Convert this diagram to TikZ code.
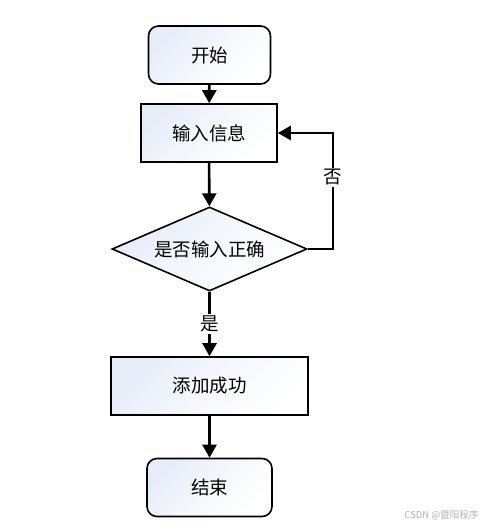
\documentclass[tikz,border=0pt]{standalone}
\usepackage{fontspec}
\setmainfont{Noto Sans CJK SC}
\usetikzlibrary{shapes.geometric,arrows.meta}
\definecolor{fillA}{HTML}{E6ECF8}
\tikzset{
  base/.style={draw=black, line width=1.6pt, inner sep=0pt, font=\fontsize{18.5}{22}\selectfont,
    shading=axis, top color=fillA, bottom color=white, middle color=white!60!fillA, shading angle=45},
  term/.style={base, rounded corners=10pt, minimum width=122pt, minimum height=58pt},
  proc/.style={base, minimum height=58pt},
  dec/.style={base, diamond, aspect=2.32, minimum width=195pt, minimum height=84pt},
  arr/.style={line width=2.6pt, -{Triangle[width=14pt,length=13pt]}},
  lab/.style={fill=white, inner sep=1.5pt, font=\fontsize{18.5}{22}\selectfont}
}
\begin{document}
\begin{tikzpicture}[x=1pt,y=-1pt]
\useasboundingbox (0,0) rectangle (485,527);
\node[term] (s) at (209.5,55) {开始};
\node[proc, minimum width=136pt] (in) at (209,133) {输入信息};
\node[dec] (d) at (209.5,249) {是否输入正确};
\node[proc, minimum width=197pt] (add) at (209.5,386) {添加成功};
\node[term, minimum width=125pt] (e) at (209.5,487.5) {结束};
\coordinate (c) at (333,249);
\draw[arr] (s) -- (in);
\draw[arr] (in) -- (d);
\draw[arr] (d) -- node[lab, pos=0.5] {是} (add);
\draw[arr] (d.east) -- (c) |- node[lab, pos=0.31] {否} (in.east);
\draw[arr] (add) -- (e);
\node[text=black!30, font=\fontsize{9.5}{11}\selectfont, anchor=east] (wm) at (482,515) {CSDN @暨阳程序};
\end{tikzpicture}
\end{document}
